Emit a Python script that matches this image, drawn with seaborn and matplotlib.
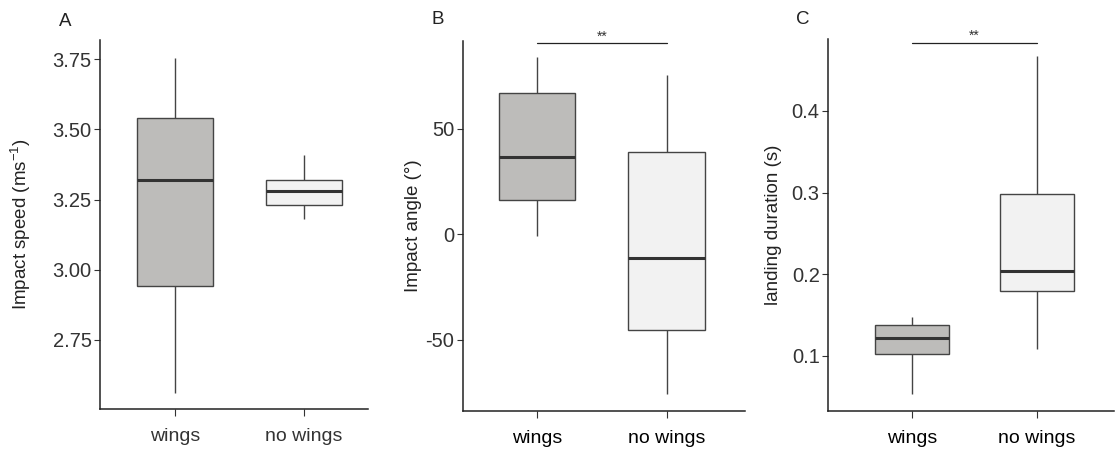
import matplotlib
matplotlib.use("Agg")
import matplotlib.pyplot as plt
import seaborn as sns
import pandas as pd

sns.set_style("white")
plt.rcParams['font.family'] = ['Liberation Sans', 'DejaVu Sans']
plt.rcParams['mathtext.fontset'] = 'custom'
plt.rcParams['mathtext.rm'] = 'Liberation Sans'
plt.rcParams['mathtext.it'] = 'Liberation Sans'

groups = ["wings", "no wings"]
# five-number summaries: min, q1, median, q3, max
speed_wings = [2.562, 2.943, 3.318, 3.540, 3.755]
speed_nowings = [3.182, 3.229, 3.280, 3.319, 3.410]
angle_wings = [-0.6, 16.1, 36.8, 66.8, 83.9]
angle_nowings = [-75.5, -45.2, -11.4, 39.1, 75.4]
dur_wings = [0.0535, 0.1024, 0.1224, 0.138, 0.148]
dur_nowings = [0.108, 0.1795, 0.204, 0.298, 0.467]

fills = {"wings": "#bdbcba", "no wings": "#f2f2f2"}

def frame(a, b):
    return pd.DataFrame({"group": [groups[0]] * len(a) + [groups[1]] * len(b),
                         "value": a + b})

fig = plt.figure(figsize=(11.15, 4.5), dpi=100)
W, H = 1115, 450
def ax_at(x0, x1, y0, y1):
    return fig.add_axes([x0 / W, 1 - y1 / H, (x1 - x0) / W, (y1 - y0) / H])

axA = ax_at(100, 368, 40, 409)
axB = ax_at(462.7, 745, 40.7, 410.7)
axC = ax_at(828, 1114, 39.3, 410.7)

panels = [
    (axA, frame(speed_wings, speed_nowings), r"Impact speed (ms$^{\mathregular{-1}}$)",
     (2.504, 3.818), [2.75, 3.00, 3.25, 3.50, 3.75], ["2.75", "3.00", "3.25", "3.50", "3.75"],
     (-0.58, 1.5), "A", None, "#333333", 21),
    (axB, frame(angle_wings, angle_nowings), "Impact angle (°)",
     (-83.6, 91.8), [-50, 0, 50], ["-50", "0", "50"],
     (-0.577, 1.606), "B", 90.5, "black", 413),
    (axC, frame(dur_wings, dur_nowings), "landing duration (s)",
     (0.033, 0.4878), [0.1, 0.2, 0.3, 0.4], ["0.1", "0.2", "0.3", "0.4"],
     (-0.672, 1.616), "C", 0.483, "black", 774),
]

for ax, df, ylabel, ylim, yt, ytl, xlim, letter, brk, xcol, lx in panels:
    sns.boxplot(data=df, x="group", y="value", hue="group", order=groups,
                hue_order=groups, palette=fills, width=0.59, whis=(0, 100),
                linecolor="#444444", linewidth=1.0, dodge=False, legend=False,
                showcaps=False,
                medianprops={"color": "#333333", "linewidth": 2.2},
                ax=ax)
    ax.set_ylim(*ylim)
    ax.set_xlim(*xlim)
    ax.set_yticks(yt)
    ax.set_yticklabels(ytl)
    ax.set_xlabel("")
    ax.set_ylabel(ylabel, fontsize=13.5, color="#222222")
    pos = ax.get_position()
    ax.yaxis.set_label_coords((lx / W - pos.x0) / pos.width, 0.5)
    for s in ["top", "right"]:
        ax.spines[s].set_visible(False)
    for s in ["left", "bottom"]:
        ax.spines[s].set_color("#222222")
        ax.spines[s].set_linewidth(1.1)
    ax.tick_params(axis="y", direction="out", length=4, width=0.8, color="#333333",
                   labelsize=14.5, labelcolor="#333333", left=True, pad=2)
    ax.tick_params(axis="x", direction="out", length=5, width=0.8, color="#333333",
                   labelsize=14, labelcolor=xcol, bottom=True, pad=9)
    if brk is not None:
        ax.plot([0, 1], [brk, brk], color="#222222", linewidth=0.9, clip_on=False)
        ax.text(0.5, brk, "**", ha="center", va="bottom", fontsize=10,
                color="#333333", transform=ax.transData)
    ax.grid(False)

for ax in (axA, axB, axC):
    ax.yaxis.label.set_va("center")
    ax.yaxis.label.set_ha("center")

fig.text(65 / W, 1 - 21 / H, "A", fontsize=13.5, color="#222222", ha="center", va="center")
fig.text(438 / W, 1 - 20 / H, "B", fontsize=13.5, color="#222222", ha="center", va="center")
fig.text(803 / W, 1 - 20 / H, "C", fontsize=13.5, color="#222222", ha="center", va="center")

fig.savefig("out.png", dpi=100)
